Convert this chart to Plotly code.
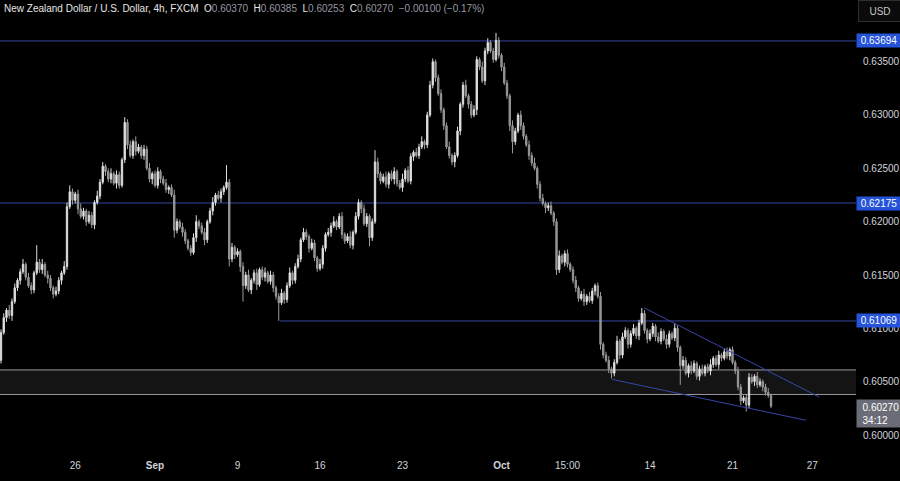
import plotly.graph_objects as go

# ---------------- data ----------------
first_open = 0.6070
closes = [
    0.6096, 0.6110, 0.6117, 0.6112, 0.6125, 0.6138, 0.6145, 0.6153, 0.6160, 0.6148,
    0.6140, 0.6136, 0.6152, 0.6162, 0.6155, 0.6160, 0.6150, 0.6147, 0.6138, 0.6132,
    0.6135, 0.6145, 0.6152, 0.6158, 0.6214, 0.6228, 0.6220, 0.6226, 0.6212, 0.6205,
    0.6210, 0.6200, 0.6206, 0.6197, 0.6218, 0.6224, 0.6237, 0.6252, 0.6247, 0.6240,
    0.6245, 0.6236, 0.6244, 0.6234, 0.6258, 0.6293, 0.6272, 0.6262, 0.6275, 0.6266,
    0.6270, 0.6262, 0.6268, 0.6250, 0.6240, 0.6245, 0.6234, 0.6247, 0.6240, 0.6236,
    0.6230, 0.6232, 0.6225, 0.6192, 0.6200, 0.6195, 0.6190, 0.6182, 0.6175, 0.6171,
    0.6185, 0.6200, 0.6196, 0.6190, 0.6183, 0.6200, 0.6210, 0.6218, 0.6225, 0.6222,
    0.6228, 0.6232, 0.6237, 0.6165, 0.6176, 0.6169, 0.6172, 0.6158, 0.6140, 0.6150,
    0.6136, 0.6145, 0.6152, 0.6141, 0.6155, 0.6148, 0.6152, 0.6144, 0.6150, 0.6138,
    0.6130, 0.6124, 0.6133, 0.6127, 0.6140, 0.6152, 0.6145, 0.6158, 0.6165, 0.6183,
    0.6190, 0.6186, 0.6175, 0.6180, 0.6166, 0.6156, 0.6160, 0.6175, 0.6188, 0.6190,
    0.6196, 0.6200, 0.6195, 0.6205, 0.6188, 0.6182, 0.6186, 0.6178, 0.6190, 0.6205,
    0.6218, 0.6212, 0.6198, 0.6205, 0.6185, 0.6200, 0.6256, 0.6245, 0.6238, 0.6242,
    0.6235, 0.6245, 0.6240, 0.6247, 0.6236, 0.6232, 0.6240, 0.6248, 0.6238, 0.6261,
    0.6265, 0.6262, 0.6270, 0.6275, 0.6272, 0.6300, 0.6328, 0.6350, 0.6335, 0.6320,
    0.6305, 0.6290, 0.6270, 0.6262, 0.6256, 0.6262, 0.6285, 0.6310, 0.6328, 0.6318,
    0.6310, 0.6300, 0.6305, 0.6352, 0.6345, 0.6332, 0.6360, 0.6368, 0.6360, 0.6352,
    0.6370, 0.6356, 0.6345, 0.6330, 0.6318, 0.6290, 0.6275, 0.6285, 0.6300, 0.6290,
    0.6280, 0.6272, 0.6262, 0.6255, 0.6250, 0.6235, 0.6222, 0.6217, 0.6213, 0.6215,
    0.6208, 0.6200, 0.6155, 0.6168, 0.6162, 0.6170, 0.6160, 0.6155, 0.6145, 0.6138,
    0.6128, 0.6132, 0.6125, 0.6130, 0.6126, 0.6135, 0.6140, 0.6130, 0.6085, 0.6075,
    0.6070, 0.6062, 0.6058, 0.6068, 0.6088, 0.6075, 0.6092, 0.6098, 0.6085, 0.6095,
    0.6100, 0.6093, 0.6105, 0.6114, 0.6098, 0.6090, 0.6095, 0.6102, 0.6092, 0.6088,
    0.6097, 0.6090, 0.6085, 0.6095, 0.6091, 0.6100, 0.6082, 0.6065, 0.6070, 0.6058,
    0.6065, 0.6060, 0.6067, 0.6055, 0.6062, 0.6058, 0.6064, 0.6060, 0.6066, 0.6072,
    0.6066, 0.6075, 0.6072, 0.6078, 0.6074, 0.6080, 0.6068, 0.6060, 0.6045, 0.6032,
    0.6035, 0.6028, 0.6054, 0.6050, 0.6055, 0.6047, 0.6050, 0.6045, 0.6040, 0.6037,
    0.6027,
]
# wick lengths beyond the candle body, in pips (0.0001)
upper_wick_pips = [
    3, 4, 2, 5, 3, 4, 2, 3, 5, 2,
    4, 3, 2, 16, 3, 5, 2, 4, 3, 2,
    4, 3, 2, 5, 4, 6, 3, 2, 4, 5,
    3, 2, 4, 3, 2, 5, 3, 4, 2, 3,
    5, 2, 4, 3, 2, 5, 3, 4, 2, 5,
    3, 2, 4, 3, 5, 2, 3, 4, 2, 3,
    4, 2, 3, 5, 3, 2, 4, 3, 2, 3,
    4, 6, 2, 3, 4, 2, 3, 5, 2, 4,
    3, 2, 16, 3, 4, 2, 3, 2, 4, 3,
    5, 2, 3, 4, 2, 3, 5, 2, 4, 3,
    2, 3, 4, 2, 3, 5, 2, 3, 4, 2,
    4, 3, 2, 4, 3, 2, 5, 3, 2, 4,
    3, 5, 2, 3, 4, 2, 3, 5, 2, 4,
    3, 2, 4, 3, 2, 3, 11, 4, 2, 3,
    5, 2, 3, 4, 2, 3, 5, 2, 4, 3,
    2, 4, 3, 5, 2, 3, 4, 3, 2, 3,
    4, 2, 3, 5, 2, 3, 4, 2, 3, 5,
    2, 3, 4, 3, 2, 5, 3, 4, 2, 3,
    7, 3, 2, 4, 3, 2, 5, 3, 2, 4,
    3, 2, 4, 3, 5, 2, 3, 4, 2, 3,
    4, 2, 3, 5, 2, 3, 4, 2, 3, 4,
    2, 3, 5, 2, 4, 3, 2, 3, 4, 2,
    3, 4, 2, 3, 5, 2, 4, 3, 2, 3,
    4, 2, 3, 5, 3, 2, 4, 3, 2, 4,
    3, 2, 4, 3, 2, 5, 3, 2, 4, 3,
    2, 4, 3, 2, 3, 4, 2, 3, 5, 2,
    3, 4, 2, 3, 4, 2, 3, 2, 4, 3,
    2, 3, 4, 3, 2, 4, 3, 2, 3, 4,
    1.5,
]
lower_wick_pips = [
    3, 2, 4, 3, 5, 2, 3, 4, 2, 3,
    2, 4, 3, 2, 3, 4, 2, 5, 3, 4,
    2, 3, 4, 2, 3, 2, 4, 3, 5, 2,
    3, 4, 2, 3, 4, 2, 3, 2, 4, 3,
    4, 2, 5, 3, 2, 3, 4, 2, 3, 4,
    2, 3, 4, 2, 3, 5, 2, 3, 4, 2,
    3, 4, 2, 7, 3, 2, 4, 3, 2, 3,
    2, 4, 3, 2, 5, 3, 2, 4, 3, 2,
    4, 3, 2, 7, 3, 4, 2, 5, 15, 3,
    2, 4, 3, 5, 2, 3, 4, 2, 3, 4,
    3, 17, 2, 4, 3, 2, 4, 3, 2, 3,
    2, 3, 4, 2, 3, 3, 2, 4, 3, 2,
    4, 2, 3, 2, 4, 3, 2, 3, 4, 2,
    3, 4, 2, 3, 8, 3, 2, 4, 3, 2,
    3, 4, 2, 5, 3, 2, 4, 3, 2, 3,
    4, 2, 3, 2, 4, 3, 2, 3, 4, 2,
    3, 4, 2, 3, 3, 5, 2, 4, 3, 2,
    4, 3, 2, 5, 3, 2, 4, 3, 2, 3,
    2, 3, 4, 2, 3, 5, 11, 3, 2, 4,
    3, 2, 4, 3, 2, 4, 3, 2, 5, 3,
    2, 4, 5, 3, 2, 4, 3, 2, 3, 4,
    3, 2, 4, 3, 2, 3, 4, 2, 5, 3,
    2, 4, 5, 3, 2, 4, 3, 2, 4, 3,
    2, 3, 4, 2, 3, 4, 2, 3, 4, 2,
    3, 2, 4, 3, 2, 3, 4, 18, 3, 2,
    4, 3, 2, 3, 4, 2, 3, 2, 4, 3,
    2, 4, 3, 2, 3, 4, 2, 3, 3, 4,
    2, 6, 3, 2, 4, 3, 2, 4, 3, 2,
    1.7,
]

# time axis labels (bar index -> label)
time_tick_bars = [27, 56, 86, 116, 146, 182, 206, 236, 266, 295]
time_tick_labels = ["26", "<b>Sep</b>", "9", "16", "23", "<b>Oct</b>", "15:00", "14", "21", "27"]

# price axis labels
price_ticks = [0.600, 0.605, 0.610, 0.615, 0.620, 0.625, 0.630, 0.635]

# horizontal levels: price and first bar of the drawn line
levels = [0.63694, 0.62175, 0.61069]
level_start_bars = [-5, -5, 101.5]

# grey zone
zone_low, zone_high = 0.6038, 0.6061

# wedge trendlines: (bar, price) pairs
wedge_upper = [(233.8, 0.61193), (297.5, 0.60356)]
wedge_lower = [(222.1, 0.60522), (292.7, 0.60138)]

last_price = 0.60270
countdown = "34:12"

# ---------------- build OHLC ----------------
opens, highs, lows = [], [], []
prev = first_open
for c, up, dn in zip(closes, upper_wick_pips, lower_wick_pips):
    o = prev
    opens.append(o)
    highs.append(max(o, c) + up * 0.0001)
    lows.append(min(o, c) - dn * 0.0001)
    prev = c
bars = list(range(len(closes)))

FONT = "Liberation Sans, Arial, sans-serif"
LINE_BLUE = "#3646a6"
TAG_BLUE = "#2553d9"
FS = 10

fig = go.Figure()
fig.add_trace(go.Candlestick(
    x=bars, open=opens, high=highs, low=lows, close=closes,
    increasing=dict(fillcolor="#f2f2f2", line=dict(color="#dcdcdc", width=1)),
    decreasing=dict(fillcolor="#8e8e8e", line=dict(color="#9a9a9a", width=1)),
    whiskerwidth=0, showlegend=False, hoverinfo="skip",
))

shapes = []
shapes.append(dict(type="rect", xref="x", yref="y", x0=-10, x1=400,
                   y0=zone_low, y1=zone_high, fillcolor="#141414",
                   line=dict(color="#9a9a9a", width=1), layer="below"))
for lv, st in zip(levels, level_start_bars):
    shapes.append(dict(type="line", xref="x", yref="y", x0=st, x1=400, y0=lv, y1=lv,
                       line=dict(color=LINE_BLUE, width=1), layer="below"))
for (xa, ya), (xb, yb) in (wedge_upper, wedge_lower):
    shapes.append(dict(type="line", xref="x", yref="y", x0=xa, y0=ya, x1=xb, y1=yb,
                       line=dict(color=LINE_BLUE, width=1)))

annotations = []
for lv in levels:
    annotations.append(dict(xref="paper", x=1, xanchor="left", yref="y", y=lv,
                            yanchor="middle", text=f"{lv:.5f}", showarrow=False,
                            bgcolor=TAG_BLUE, width=44, height=13, borderpad=0,
                            font=dict(family=FONT, size=FS, color="#ffffff")))
annotations.append(dict(xref="paper", x=1, xanchor="left", yref="y", y=last_price,
                        yanchor="top", yshift=7,
                        text=f"&nbsp;&nbsp;{last_price:.5f}<br>&nbsp;&nbsp;{countdown}",
                        showarrow=False, bgcolor="#6a6d77", width=44, height=27,
                        borderpad=0, align="left",
                        font=dict(family=FONT, size=FS, color="#ffffff")))
annotations.append(dict(xref="paper", x=1, xanchor="left", xshift=2, yref="paper", y=1,
                        yanchor="top", text="USD", showarrow=False, bgcolor="#0b0b0b",
                        bordercolor="#2e2e2e", borderwidth=1, width=40, height=18,
                        font=dict(family=FONT, size=FS, color="#c8c8c8")))

o_, h_, l_, c_ = opens[-1], highs[-1], lows[-1], closes[-1]
chg = c_ - o_
pct = chg / o_ * 100
g = "#9598a1"
w = "#e6e6e6"
sp = "&nbsp;&nbsp;"
title = (f"<span style='color:{w}'>New Zealand Dollar / U.S. Dollar, 4h, FXCM</span>"
         f"{sp}<span style='color:{w}'>O</span><span style='color:{g}'>{o_:.5f}</span>"
         f"{sp}<span style='color:{w}'>H</span><span style='color:{g}'>{h_:.5f}</span>"
         f"{sp}<span style='color:{w}'>L</span><span style='color:{g}'>{l_:.5f}</span>"
         f"{sp}<span style='color:{w}'>C</span><span style='color:{g}'>{c_:.5f}</span>"
         f"{sp}<span style='color:{g}'>−{abs(chg):.5f} (−{abs(pct):.2f}%)</span>")
annotations.append(dict(xref="paper", x=0, xanchor="left", xshift=2, yref="paper", y=1,
                        yanchor="top", yshift=-1, text=title, showarrow=False,
                        font=dict(family=FONT, size=FS, color=w)))

fig.update_layout(
    width=900, height=481,
    margin=dict(l=0, r=44, t=0, b=28, pad=0, autoexpand=False),
    paper_bgcolor="#000000", plot_bgcolor="#000000",
    shapes=shapes, annotations=annotations,
    xaxis=dict(range=[-0.36, 310.9], rangeslider=dict(visible=False),
               showgrid=False, zeroline=False, showline=False, automargin=False,
               tickmode="array", tickvals=time_tick_bars, ticktext=time_tick_labels,
               tickfont=dict(family=FONT, size=FS, color="#d1d4dc"), ticks="",
               ticklabelstandoff=5),
    yaxis=dict(range=[0.598313, 0.640780], side="right", showgrid=False,
               zeroline=False, showline=False, automargin=False,
               tickmode="array", tickvals=price_ticks,
               tickformat=".5f", ticks="", ticklabelstandoff=6,
               tickfont=dict(family=FONT, size=FS, color="#d1d4dc")),
)

fig.write_html(
    "out.html",
    config={"displayModeBar": False},
    post_script="document.body.style.margin='0';document.body.style.background='#000';",
)
